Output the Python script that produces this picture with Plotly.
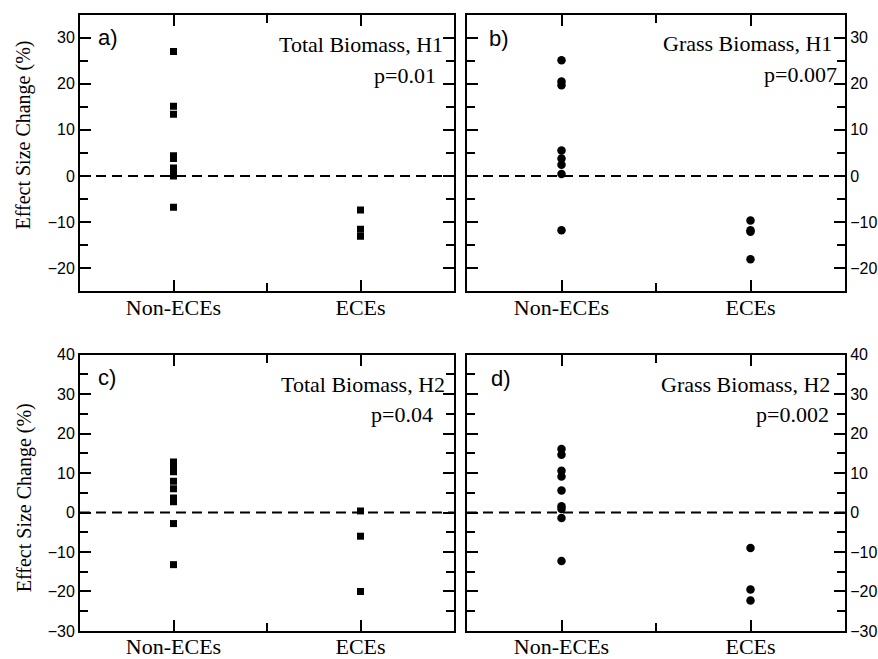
import plotly.graph_objects as go

# ---- data ----
categories = ["Non-ECEs", "ECEs"]
cat_pos = [1, 2]

a_non = [27.0, 15.1, 13.4, 4.4, 3.8, 1.7, 0.8, 0.0, -6.8]
a_ece = [-7.4, -11.6, -13.1]
b_non = [25.1, 20.5, 19.7, 5.5, 3.8, 2.4, 0.4, -11.8]
b_ece = [-9.7, -11.8, -12.1, -18.1]
c_non = [12.8, 11.5, 10.3, 7.9, 6.0, 3.7, 2.7, -2.8, -13.2]
c_ece = [0.4, -6.0, -20.0]
d_non = [16.1, 14.6, 10.6, 9.1, 5.6, 1.6, 0.9, -1.4, -12.3]
d_ece = [-9.0, -19.5, -22.3]

panel_letters = ["a)", "b)", "c)", "d)"]
panel_titles = ["Total Biomass, H1", "Grass Biomass, H1", "Total Biomass, H2", "Grass Biomass, H2"]
panel_pvals = ["p=0.01", "p=0.007", "p=0.04", "p=0.002"]
y_title = "Effect Size Change (%)"

W, H = 878, 659
SERIF = "Liberation Serif, Times New Roman, serif"
SANS = "Liberation Sans, Arial, sans-serif"

# the captured page appears slightly offset/compressed vertically; compensate
VS, VO = 0.977, 7.3

def px(x):
    return x / W

def py(y):
    return 1 - ((y - VO) / VS) / H

# panel pixel boxes: (left, top, right, bottom)
boxes = [(80, 14, 454, 293), (467, 14, 845, 293), (80, 357, 454, 636), (467, 357, 845, 636)]
yranges = [[-25, 35], [-25, 35], [-30, 40], [-30, 40]]
sides = ["left", "right", "left", "right"]
symbols = ["square", "circle", "square", "circle"]
msizes = [7, 8.5, 7, 8.5]
series = [(a_non, a_ece), (b_non, b_ece), (c_non, c_ece), (d_non, d_ece)]

fig = go.Figure()
layout = dict(
    width=W, height=H, autosize=False,
    margin=dict(l=0, r=0, t=0, b=0),
    paper_bgcolor="white", plot_bgcolor="white",
    showlegend=False,
)

shapes = []
annotations = []
for i in range(4):
    n = "" if i == 0 else str(i + 1)
    l, t, r, b = boxes[i]
    non, ece = series[i]
    xs = [cat_pos[0]] * len(non) + [cat_pos[1]] * len(ece)
    ys = list(non) + list(ece)
    fig.add_trace(go.Scatter(
        x=xs, y=ys, mode="markers", xaxis="x" + n, yaxis="y" + n,
        marker=dict(symbol=symbols[i], size=msizes[i], color="black", line=dict(width=0)),
        hoverinfo="y",
    ))
    layout["xaxis" + n] = dict(
        domain=[px(l), px(r)], anchor="y" + n, range=[0.5, 2.5],
        tickmode="array", tickvals=cat_pos, ticktext=categories,
        ticks="inside", ticklen=11, tickwidth=1.5, tickcolor="black",
        ticklabelstandoff=-5,
        showline=True, linewidth=2, linecolor="black", mirror="allticks",
        showgrid=False, zeroline=False,
        tickfont=dict(family=SERIF, size=22, color="black"),
        minor=dict(tickmode="array", tickvals=[1.5], ticks="inside", ticklen=8,
                   tickwidth=1.5, tickcolor="black", showgrid=False),
        fixedrange=True,
    )
    layout["yaxis" + n] = dict(
        domain=[py(b), py(t)], anchor="x" + n, range=yranges[i], side=sides[i],
        tick0=0, dtick=10,
        ticks="inside", ticklen=11, tickwidth=1.5, tickcolor="black",
        showline=True, linewidth=2, linecolor="black", mirror="allticks",
        showgrid=False, zeroline=False,
        tickfont=dict(family=SANS, size=16, color="black"),
        minor=dict(dtick=5, ticks="inside", ticklen=8, tickwidth=1.5,
                   tickcolor="black", showgrid=False),
        fixedrange=True,
    )
    shapes.append(dict(
        type="line", xref="x" + n + " domain", yref="y" + n,
        x0=0, x1=1, y0=0, y1=0,
        line=dict(color="black", width=2, dash="10px,6px"),
    ))

# panel letters
letter_pos = [(96, 37), (487, 38), (96, 380), (489, 381)]
for (x, y), txt in zip(letter_pos, panel_letters):
    annotations.append(dict(
        x=px(x), y=py(y), xref="paper", yref="paper", xanchor="left", yanchor="middle",
        text=txt, showarrow=False, font=dict(family=SANS, size=22, color="black"),
    ))

title_pos = [(445, 44), (834, 43), (447, 387), (832, 387)]
pval_pos = [(438, 75), (839, 74), (435, 418), (831, 418)]
for (x, y), txt in zip(title_pos, panel_titles):
    annotations.append(dict(
        x=px(x), y=py(y), xref="paper", yref="paper", xanchor="right", yanchor="middle",
        text=txt, showarrow=False, font=dict(family=SERIF, size=22, color="black"),
    ))
for (x, y), txt in zip(pval_pos, panel_pvals):
    annotations.append(dict(
        x=px(x), y=py(y), xref="paper", yref="paper", xanchor="right", yanchor="middle",
        text=txt, showarrow=False, font=dict(family=SERIF, size=22, color="black"),
    ))

for yc in [136, 502]:
    annotations.append(dict(
        x=px(24), y=py(yc), xref="paper", yref="paper", xanchor="center", yanchor="middle",
        text=y_title, textangle=-90, showarrow=False,
        font=dict(family=SERIF, size=20, color="black"),
    ))

layout["shapes"] = shapes
layout["annotations"] = annotations
fig.update_layout(**layout)
fig.write_html(
    "out.html", config={"displayModeBar": False},
    post_script=(
        "document.documentElement.style.margin='0px';"
        "document.body.style.margin='0px';"
        "document.body.style.overflow='hidden';"
    ),
)
